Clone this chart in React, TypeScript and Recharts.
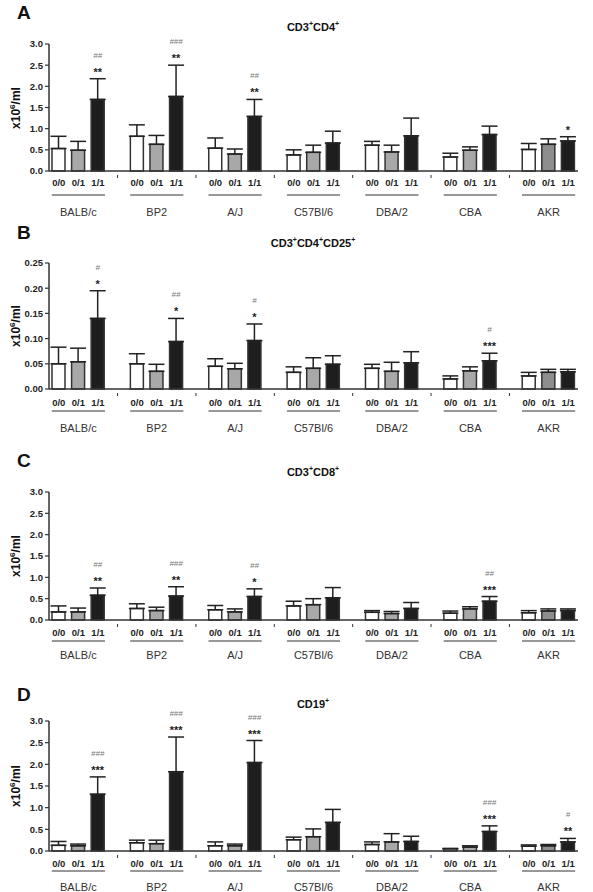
import React from "react";
import { BarChart, Bar, XAxis, YAxis, ErrorBar, Cell, LabelList } from "recharts";

const strains = ["BALB/c", "BP2", "A/J", "C57Bl/6", "DBA/2", "CBA", "AKR"];
const genotypes = ["0/0", "0/1", "1/1"];

// A: CD3+CD4+ (x10^6/ml) - mean and upper SEM, 0/0, 0/1, 1/1 per strain
const cd4Mean = [0.53, 0.49, 1.69, 0.82, 0.63, 1.76, 0.54, 0.4, 1.29, 0.38, 0.44, 0.66, 0.61, 0.45, 0.83, 0.33, 0.49, 0.86, 0.51, 0.63, 0.71];
const cd4Sem = [0.29, 0.21, 0.49, 0.27, 0.21, 0.74, 0.24, 0.12, 0.4, 0.12, 0.17, 0.28, 0.09, 0.16, 0.42, 0.09, 0.08, 0.2, 0.14, 0.13, 0.1];
const cd4Stars = ["**", "**", "**", "", "", "", "*"];
const cd4Hash = ["##", "###", "##", "", "", "", ""];

// B: CD3+CD4+CD25+
const tregMean = [0.05, 0.054, 0.14, 0.05, 0.035, 0.094, 0.045, 0.04, 0.096, 0.033, 0.041, 0.049, 0.041, 0.035, 0.052, 0.02, 0.036, 0.056, 0.026, 0.033, 0.034];
const tregSem = [0.033, 0.027, 0.055, 0.02, 0.014, 0.046, 0.015, 0.011, 0.033, 0.011, 0.021, 0.017, 0.008, 0.018, 0.022, 0.006, 0.008, 0.015, 0.007, 0.006, 0.005];
const tregStars = ["*", "*", "*", "", "", "***", ""];
const tregHash = ["#", "##", "#", "", "", "#", ""];

// C: CD3+CD8+
const cd8Mean = [0.19, 0.19, 0.58, 0.27, 0.22, 0.56, 0.24, 0.19, 0.55, 0.33, 0.36, 0.52, 0.18, 0.15, 0.27, 0.16, 0.26, 0.44, 0.17, 0.21, 0.22];
const cd8Sem = [0.14, 0.09, 0.17, 0.11, 0.08, 0.22, 0.1, 0.07, 0.18, 0.11, 0.14, 0.24, 0.04, 0.05, 0.14, 0.05, 0.05, 0.11, 0.05, 0.05, 0.04];
const cd8Stars = ["**", "**", "*", "", "", "***", ""];
const cd8Hash = ["##", "###", "##", "", "", "##", ""];

// D: CD19+
const cd19Mean = [0.13, 0.12, 1.31, 0.19, 0.17, 1.83, 0.12, 0.12, 2.04, 0.26, 0.33, 0.66, 0.15, 0.21, 0.22, 0.05, 0.09, 0.45, 0.11, 0.12, 0.21];
const cd19Sem = [0.09, 0.04, 0.4, 0.06, 0.08, 0.8, 0.09, 0.04, 0.51, 0.06, 0.18, 0.3, 0.06, 0.19, 0.12, 0.01, 0.03, 0.13, 0.03, 0.03, 0.08];
const cd19Stars = ["***", "***", "***", "", "", "***", "**"];
const cd19Hash = ["###", "###", "###", "", "", "###", "#"];

const countTicks = [0, 0.5, 1, 1.5, 2, 2.5, 3];
const tregTicks = [0, 0.05, 0.1, 0.15, 0.2, 0.25];

const FONT = "'Liberation Sans', Arial, sans-serif";
const fills = ["#ffffff", "#a8a8a8", "#1e1e1e"];
const PLOT_L = 49;
const PLOT_R = 578;
const slotW = (PLOT_R - PLOT_L) / 27;

function buildSlots(mean: number[], sem: number[], stars: string[], hash: string[]) {
  const rows: any[] = [];
  strains.forEach((s, g) => {
    genotypes.forEach((geno, k) => {
      const i = g * 3 + k;
      rows.push({
        id: s + "|" + geno,
        strain: s,
        geno,
        mean: mean[i],
        sem: sem[i],
        err: [0, sem[i]],
        fill: s === "AKR" && k === 1 ? "#8e8e8e" : fills[k],
        stars: k === 2 ? stars[g] : "",
        hash: k === 2 ? hash[g] : "",
      });
    });
    if (g < strains.length - 1) {
      rows.push({ id: "gap" + g, strain: "", geno: "", mean: 0, sem: 0, err: [0, 0], fill: "none", stars: "", hash: "" });
    }
  });
  return rows;
}

const Sup = ({ children, size }: any) => (
  <sup style={{ fontSize: size, verticalAlign: "super", lineHeight: 0 }}>{children}</sup>
);

const Panel = ({ letter, title, plotTop, plotBottom, rows, ticks, digits, tickOff, ulOff, lblOff, titleY, letterY }: any) => {
  const pad = 40;
  const xH = 50;
  const h = pad + (plotBottom - plotTop) + xH;
  const max = ticks[ticks.length - 1];

  const renderTick = (props: any) => {
    const { x, y, payload } = props;
    const row = rows.find((r: any) => r.id === payload.value);
    if (!row) return <g />;
    if (!row.geno) {
      return <line x1={x} x2={x} y1={y + 2} y2={y + 5} stroke="#333" strokeWidth={1} />;
    }
    return (
      <g>
        <text x={x} y={y + tickOff} textAnchor="middle" dominantBaseline="central" fontSize={9.5} fontWeight={700} fill="#222" fontFamily={FONT}>
          {row.geno}
        </text>
        {row.geno === "0/1" && (
          <g>
            <line x1={x - slotW - 7} x2={x + slotW + 7} y1={y + ulOff} y2={y + ulOff} stroke="#333" strokeWidth={1.2} />
            <text x={x} y={y + lblOff} textAnchor="middle" dominantBaseline="central" fontSize={11} fill="#333" fontFamily={FONT}>
              {row.strain}
            </text>
          </g>
        )}
      </g>
    );
  };

  // significance marks above the 1/1 bars, looked up by the bar's own id
  const renderSig = (props: any) => {
    const { x, y, width, height, value } = props;
    const row = rows.find((r: any) => r.id === value);
    if (!row || (!row.stars && !row.hash) || !row.mean) return null;
    const ppu = Number(height) / row.mean;
    const errTop = Number(y) - row.sem * ppu;
    const cx = Number(x) + Number(width) / 2;
    return (
      <g>
        <text x={cx} y={errTop - 3} textAnchor="middle" fontSize={11} fontWeight={700} fill="#222" fontFamily={FONT}>
          {row.stars}
        </text>
        <text x={cx} y={errTop - 21} textAnchor="middle" fontSize={8} fill="#777" fontStyle="italic" fontFamily={FONT}>
          {row.hash}
        </text>
      </g>
    );
  };

  return (
    <>
      <div style={{ position: "absolute", left: 17, top: letterY - 2.5, fontSize: 19, lineHeight: "19px", fontWeight: 700, fontFamily: FONT, color: "#111" }}>
        {letter}
      </div>
      <div style={{ position: "absolute", left: 213, width: 200, top: titleY - 7, lineHeight: "14px", textAlign: "center", fontSize: 11, fontWeight: 700, fontFamily: FONT, color: "#111" }}>
        {title}
      </div>
      <div
        style={{
          position: "absolute",
          left: 16 - 45,
          width: 90,
          top: (plotTop + plotBottom) / 2 - 8,
          height: 16,
          lineHeight: "16px",
          textAlign: "center",
          transform: "rotate(-90deg)",
          fontSize: 12,
          fontWeight: 700,
          fontFamily: FONT,
          color: "#111",
        }}
      >
        x10<Sup size={8}>6</Sup>/ml
      </div>
      <div style={{ position: "absolute", left: 0, top: plotTop - pad }}>
        <BarChart width={593} height={h} data={rows} margin={{ top: pad, right: 593 - PLOT_R, left: 0, bottom: 0 }}>
          <XAxis
            dataKey="id"
            interval={0}
            tickLine={false}
            tickSize={0}
            height={xH}
            axisLine={{ stroke: "#333", strokeWidth: 1.5 }}
            tick={renderTick}
          />
          <YAxis
            width={PLOT_L}
            domain={[0, max]}
            ticks={ticks}
            interval={0}
            tickSize={4}
            tickFormatter={(v: number) => v.toFixed(digits)}
            tick={{ fontSize: 9.5, fontWeight: 700, fill: "#222", fontFamily: FONT }}
            tickLine={{ stroke: "#333", strokeWidth: 1.2 }}
            axisLine={{ stroke: "#333", strokeWidth: 1.5 }}
          />
          <Bar dataKey="mean" barSize={13} stroke="#333" strokeWidth={1.5} isAnimationActive={false}>
            {rows.map((r: any) => (
              <Cell key={r.id} fill={r.fill} />
            ))}
            <ErrorBar dataKey="err" width={8} stroke="#222" strokeWidth={1.5} direction="y" />
            <LabelList dataKey="id" content={renderSig} />
          </Bar>
        </BarChart>
      </div>
    </>
  );
};

export default function App() {
  return (
    <div style={{ position: "absolute", left: 0, top: 0, width: 593, height: 892, background: "#fff", overflow: "hidden" }}>
      <Panel
        letter="A"
        title={<>CD3<Sup size={7}>+</Sup>CD4<Sup size={7}>+</Sup></>}
        plotTop={44}
        plotBottom={171}
        rows={buildSlots(cd4Mean, cd4Sem, cd4Stars, cd4Hash)}
        ticks={countTicks}
        digits={1}
        tickOff={9}
        ulOff={22}
        lblOff={39}
        titleY={27}
        letterY={5}
      />
      <Panel
        letter="B"
        title={<>CD3<Sup size={7}>+</Sup>CD4<Sup size={7}>+</Sup>CD25<Sup size={7}>+</Sup></>}
        plotTop={263}
        plotBottom={389}
        rows={buildSlots(tregMean, tregSem, tregStars, tregHash)}
        ticks={tregTicks}
        digits={2}
        tickOff={11}
        ulOff={20}
        lblOff={37}
        titleY={243}
        letterY={225}
      />
      <Panel
        letter="C"
        title={<>CD3<Sup size={7}>+</Sup>CD8<Sup size={7}>+</Sup></>}
        plotTop={492}
        plotBottom={620}
        rows={buildSlots(cd8Mean, cd8Sem, cd8Stars, cd8Hash)}
        ticks={countTicks}
        digits={1}
        tickOff={10}
        ulOff={19}
        lblOff={33}
        titleY={472}
        letterY={453}
      />
      <Panel
        letter="D"
        title={<>CD19<Sup size={7}>+</Sup></>}
        plotTop={721}
        plotBottom={851}
        rows={buildSlots(cd19Mean, cd19Sem, cd19Stars, cd19Hash)}
        ticks={countTicks}
        digits={1}
        tickOff={10}
        ulOff={18}
        lblOff={34}
        titleY={704}
        letterY={687}
      />
    </div>
  );
}
